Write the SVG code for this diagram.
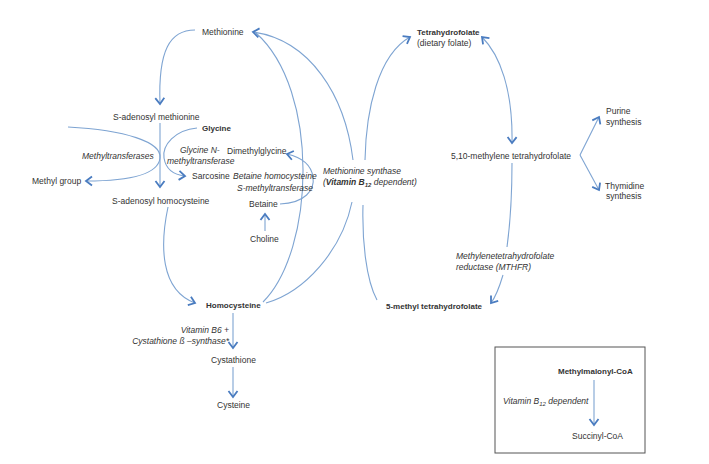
<svg xmlns="http://www.w3.org/2000/svg" width="709" height="464" viewBox="0 0 709 464">
<defs>
<style>
text{font-family:"Liberation Sans",Arial,sans-serif;font-size:8.5px;fill:#333}
.b{font-weight:bold;font-size:8px}
.i{font-style:italic}
.c{fill:none;stroke:#7ea4d2;stroke-width:1.1}
.e{marker-end:url(#ah)}
</style>
<marker id="ah" markerUnits="userSpaceOnUse" markerWidth="14" markerHeight="14" refX="0" refY="0" viewBox="-8 -7 10 14" orient="auto-start-reverse">
<path d="M-6,-4.5 L0,0 L-6,4.5" fill="none" stroke="#4a7cc0" stroke-width="1.8"/>
</marker>
</defs>
<rect width="709" height="464" fill="#fff"/>
<g id="connectors">
<path class="c e" d="M195,30 C170,30 158,50 160,104"/>
<path class="c e" d="M160,123 L160,187"/>
<path class="c e" d="M68,127 C125,130 162,142 160,158 C158,176 125,181 86,181"/>
<path class="c e" d="M197,128 C175,130 162,145 164,158 C166,170 175,175 185,176"/>
<path class="c e" d="M280,204 C305,203 315,190 313,177 C311,163 300,157 287,154"/>
<path class="c e" d="M265,231 L265,214"/>
<path class="c e" d="M168,207 C160,245 160,290 195,303"/>
<path class="c e" d="M233,313 L233,348"/>
<path class="c e" d="M233,367 L233,397"/>
<path class="c" d="M263,302 C315,250 320,90 256,33"/>
<path class="c" d="M266,303 C305,292 342,250 352,202"/>
<path class="c e" d="M353,160 C345,95 310,40 253,32"/>
<path class="c e" d="M365,160 C366,110 378,55 410,37"/>
<path class="c" d="M377,300 C366,280 362,240 363,205"/>
<path class="c e" d="M482,37 C500,55 513,90 512,143" style="marker-start:url(#ah)"/>
<path class="c" d="M512,163 C512,200 510,225 507,247"/>
<path class="c e" d="M503,275 C500,285 497,295 491,303"/>
<path class="c e" d="M580,155 L599,117"/>
<path class="c e" d="M580,155 L599,190"/>
<path class="c e" d="M594,380 L594,425"/>
</g>
<g id="methionine"><text x="202" y="35">Methionine</text></g>
<g id="sam"><text x="113" y="120">S-adenosyl methionine</text></g>
<g id="glycine"><text class="b" x="202" y="131">Glycine</text></g>
<g id="gnmt"><text class="i" x="180" y="153">Glycine N-</text><text class="i" x="167" y="164">methyltransferase</text></g>
<g id="dimethylglycine"><text x="227" y="154">Dimethylglycine</text></g>
<g id="methyltransferases"><text class="i" x="82" y="159">Methyltransferases</text></g>
<g id="methylgroup"><text x="32" y="184">Methyl group</text></g>
<g id="sarcosine"><text x="192" y="179">Sarcosine</text></g>
<g id="bhmt"><text class="i" x="233" y="179">Betaine homocysteine</text><text class="i" x="237" y="191">S-methyltransferase</text></g>
<g id="sah"><text x="112" y="204">S-adenosyl homocysteine</text></g>
<g id="betaine"><text x="249" y="207">Betaine</text></g>
<g id="choline"><text x="250" y="242">Choline</text></g>
<g id="ms"><text class="i" x="323" y="174">Methionine synthase</text><text class="i" x="323" y="185">(<tspan font-weight="bold">Vitamin B<tspan font-size="6" dy="2">12</tspan></tspan><tspan dy="-2"> dependent)</tspan></text></g>
<g id="homocysteine"><text class="b" x="206" y="308">Homocysteine</text></g>
<g id="cbs"><text class="i" x="229" y="333" text-anchor="end">Vitamin B6 +</text><text class="i" x="229" y="344" text-anchor="end">Cystathione ß –synthase*</text></g>
<g id="cystathione"><text x="211" y="363">Cystathione</text></g>
<g id="cysteine"><text x="217" y="408">Cysteine</text></g>
<g id="thf"><text class="b" x="417" y="35">Tetrahydrofolate</text><text x="417" y="46">(dietary folate)</text></g>
<g id="methylene-thf"><text x="451" y="159">5,10-methylene tetrahydrofolate</text></g>
<g id="purine"><text x="606" y="114">Purine</text><text x="606" y="125">synthesis</text></g>
<g id="thymidine"><text x="605" y="189">Thymidine</text><text x="606" y="199">synthesis</text></g>
<g id="mthfr"><text class="i" x="456" y="259">Methylenetetrahydrofolate</text><text class="i" x="456" y="270">reductase (MTHFR)</text></g>
<g id="methyl-thf"><text class="b" x="386" y="309">5-methyl tetrahydrofolate</text></g>
<g id="box">
<rect x="495" y="347" width="150" height="106" fill="none" stroke="#555" stroke-width="1"/>
<text class="b" x="558" y="374">Methylmalonyl-CoA</text>
<text class="i" x="503" y="404">Vitamin B<tspan font-size="6" dy="2">12</tspan><tspan dy="-2"> dependent</tspan></text>
<text x="572" y="439">Succinyl-CoA</text>
</g>
</svg>
